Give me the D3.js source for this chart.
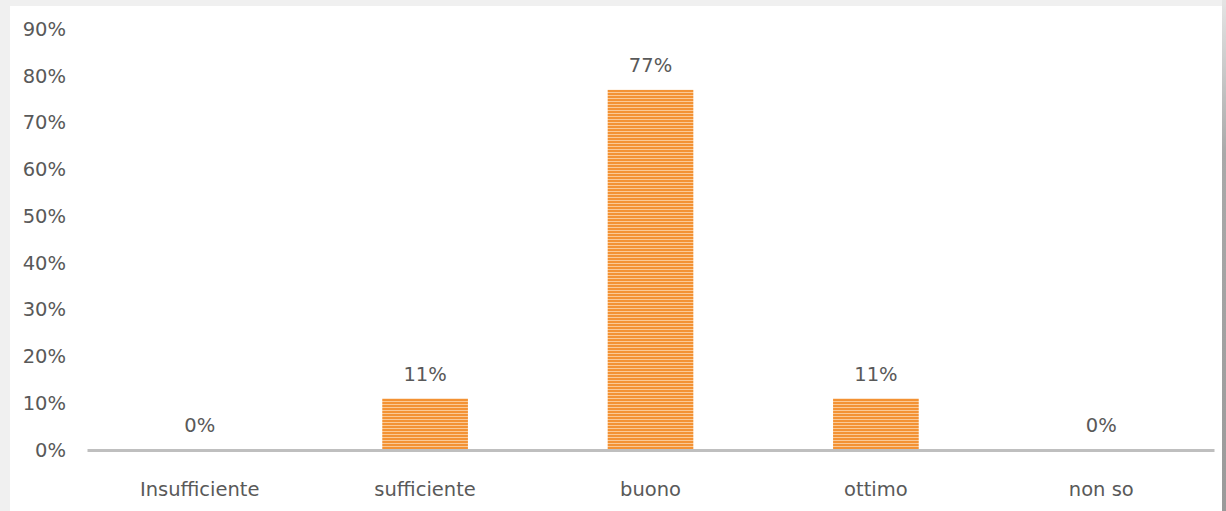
<!DOCTYPE html>
<html>
<head>
<meta charset="utf-8">
<script src="https://cdn.jsdelivr.net/npm/d3@7"></script>
<style>
  body { margin: 0; background: #f1f1f1; }
  svg { display: block; }
  text { font-family: "DejaVu Sans", Verdana, sans-serif; fill: #595959; }
</style>
</head>
<body>
<svg id="chart" width="1226" height="511"></svg>
<script>
// data
var categories = ["Insufficiente", "sufficiente", "buono", "ottimo", "non so"];
var values = [0, 0.11, 0.77, 0.11, 0];
var valueLabels = ["0%", "11%", "77%", "11%", "0%"];
var yTicks = [0, 0.1, 0.2, 0.3, 0.4, 0.5, 0.6, 0.7, 0.8, 0.9];

var svg = d3.select("#chart");
var W = 1226, H = 511;
var font = '"DejaVu Sans", Verdana, sans-serif';

// frame: light grey top/left strip, darker shadow on the right
var defs = svg.append("defs");
var shade = defs.append("linearGradient").attr("id", "shade")
    .attr("x1", 0).attr("y1", 0).attr("x2", 0).attr("y2", 1);
shade.append("stop").attr("offset", "0%").attr("stop-color", "#e4e4e4");
shade.append("stop").attr("offset", "30%").attr("stop-color", "#a9a9a9");
shade.append("stop").attr("offset", "100%").attr("stop-color", "#9a9a9a");

// horizontal stripe pattern of the bars
var pat = defs.append("pattern").attr("id", "stripes")
    .attr("patternUnits", "userSpaceOnUse")
    .attr("width", 6).attr("height", 3);
pat.append("rect").attr("width", 6).attr("height", 3).attr("fill", "#f39234");
pat.append("rect").attr("y", 2).attr("width", 6).attr("height", 1).attr("fill", "#fbc995");

svg.append("rect").attr("width", W).attr("height", H).attr("fill", "#f0f0f0");
svg.append("rect").attr("x", 10).attr("y", 6).attr("width", 1212).attr("height", H - 6).attr("fill", "#fff");
svg.append("rect").attr("x", 1222).attr("y", 0).attr("width", 4).attr("height", H).attr("fill", "url(#shade)");

var x = d3.scaleBand()
    .domain(categories)
    .range([87, 1214])
    .paddingInner(0.62)
    .paddingOuter(0.31);

var y = d3.scaleLinear()
    .domain([0, 0.9])
    .range([450, 29]);

// y axis labels (no line)
var yAxis = d3.axisLeft(y)
    .tickValues(yTicks)
    .tickFormat(d3.format(".0%"))
    .tickSize(0)
    .tickPadding(0);

svg.append("g")
    .attr("transform", "translate(66,0)")
    .call(yAxis)
    .call(function(g) { g.select(".domain").remove(); })
    .selectAll("text")
    .attr("font-size", 19.5)
    .attr("fill", "#595959")
    .style("font-family", font);

// bars
svg.append("g").selectAll("rect")
    .data(values)
    .enter().append("rect")
    .attr("x", function(d, i) { return x(categories[i]); })
    .attr("y", function(d) { return y(d); })
    .attr("width", x.bandwidth())
    .attr("height", function(d) { return y(0) - y(d); })
    .attr("fill", "url(#stripes)");

// x axis line and category labels
var xAxis = d3.axisBottom(x).tickSize(0).tickPadding(32);
var xg = svg.append("g")
    .attr("transform", "translate(0," + y(0) + ")")
    .call(xAxis);
xg.select(".domain").attr("stroke", "#bfbfbf").attr("stroke-width", 3);
xg.selectAll("text")
    .attr("font-size", 19.5)
    .attr("fill", "#595959")
    .style("font-family", font);

// value labels
svg.append("g").selectAll("text")
    .data(values)
    .enter().append("text")
    .attr("x", function(d, i) { return x(categories[i]) + x.bandwidth() / 2; })
    .attr("y", function(d) { return y(d) - 18; })
    .attr("text-anchor", "middle")
    .attr("font-size", 19.5)
    .text(function(d, i) { return valueLabels[i]; });
</script>
</body>
</html>
